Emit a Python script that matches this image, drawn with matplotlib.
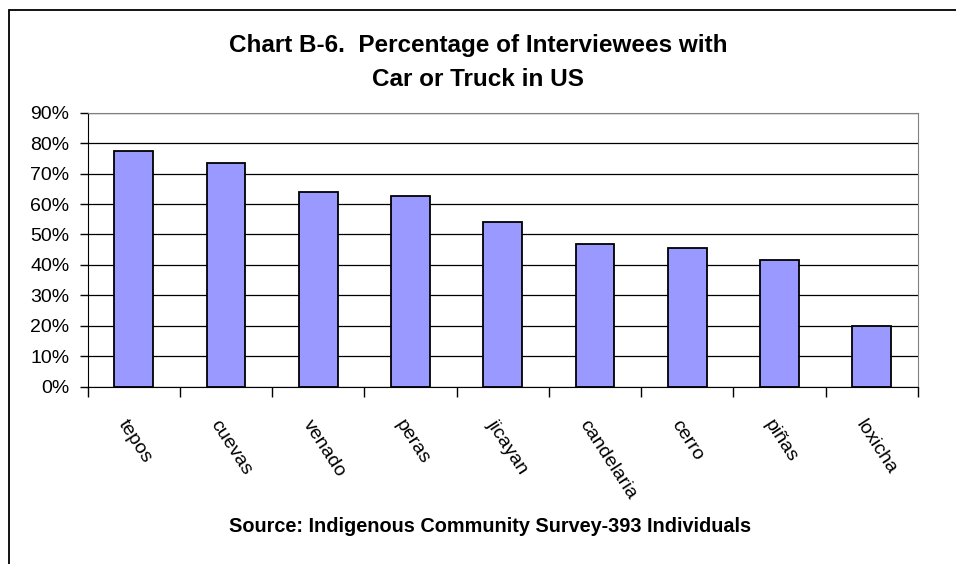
import matplotlib
matplotlib.use("Agg")
import matplotlib.pyplot as plt
import matplotlib.transforms as mtransforms
from matplotlib.patches import Rectangle
from matplotlib.ticker import FixedLocator, PercentFormatter
import numpy as np

communities = ["tepos", "cuevas", "venado", "peras", "jicayan",
               "candelaria", "cerro", "piñas", "loxicha"]
pct_car = [77.3, 73.6, 64.1, 62.5, 54.1, 46.9, 45.7, 41.6, 20.0]

plt.rcParams["font.family"] = ["Liberation Sans", "DejaVu Sans"]

fig = plt.figure(figsize=(9.56, 5.64), dpi=100)
ax = fig.add_axes([0.0917, 0.3144, 0.8683, 0.4858])

x = np.arange(len(communities))
ax.bar(x, pct_car, width=0.42, color="#9999FF", edgecolor="black",
       linewidth=1.3, zorder=3)

ax.set_xlim(-0.5, len(communities) - 0.5)
ax.set_ylim(0, 90)
ax.set_yticks(np.arange(0, 91, 10))
ax.yaxis.set_major_formatter(PercentFormatter(decimals=0))
ax.yaxis.grid(True, color="black", linewidth=0.9, zorder=0)
ax.tick_params(axis="y", direction="out", length=6, width=1, pad=7,
               labelsize=14)

# ticks on category boundaries, labels at centres
ax.xaxis.set_major_locator(FixedLocator(np.arange(-0.5, len(communities), 1.0)))
ax.xaxis.set_minor_locator(FixedLocator(x))
ax.set_xticklabels([])
ax.set_xticklabels(communities, minor=True, rotation=-57, ha="left",
                   va="top", fontsize=14)
ax.tick_params(axis="x", which="major", direction="out", length=7, width=1)
ax.tick_params(axis="x", which="minor", length=0, pad=22)
shift = mtransforms.ScaledTranslation(-0.19, 0, fig.dpi_scale_trans)
for lbl in ax.get_xticklabels(minor=True):
    lbl.set_transform(lbl.get_transform() + shift)

for side in ("top", "right"):
    ax.spines[side].set_color("#808080")
for side in ("left", "bottom"):
    ax.spines[side].set_color("black")

fig.text(0.5, 0.889, "Chart B-6.  Percentage of Interviewees with\nCar or Truck in US",
         ha="center", va="center", fontsize=17.5, fontweight="bold",
         linespacing=1.6)
fig.text(0.513, 0.066, "Source: Indigenous Community Survey-393 Individuals",
         ha="center", va="center", fontsize=14.3, fontweight="bold")

# chart-area frame (cut off at right and bottom in the original)
fig.patches.append(Rectangle((0.0099, -0.1), 1.2, 1.0831, transform=fig.transFigure,
                             fill=False, edgecolor="black", linewidth=1.3))

fig.savefig("out.png", dpi=100)
